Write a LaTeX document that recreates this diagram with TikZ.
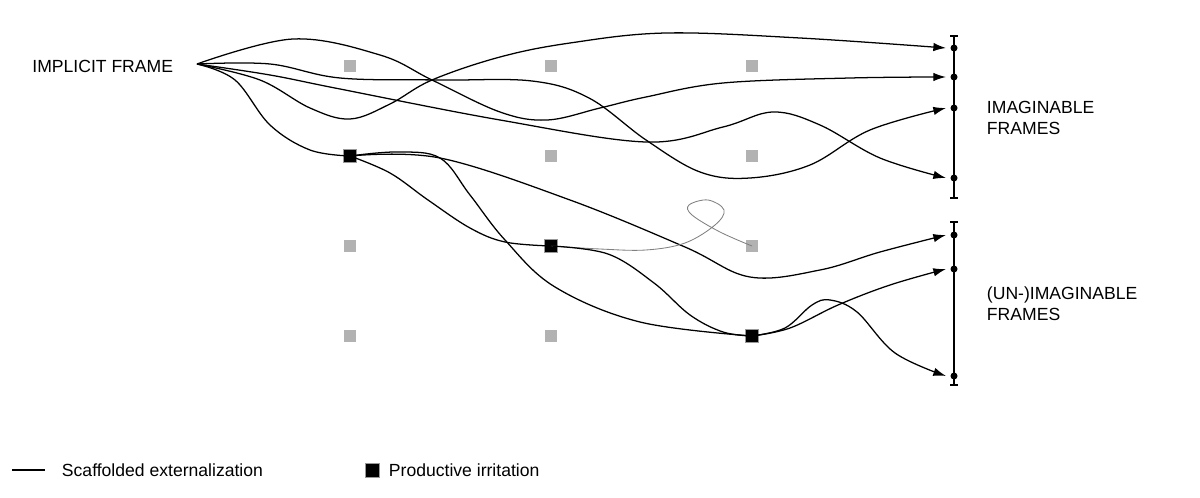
\documentclass[tikz,border=0pt]{standalone}
\usepackage{fontspec}
\setmainfont{Liberation Sans}
\usetikzlibrary{arrows.meta}
\tikzset{
  flow/.style     = {draw, line width=0.9pt, -{Latex[length=9pt,width=6pt]}},
  link/.style     = {draw, line width=0.9pt},
  spot/.style     = {shape=rectangle, minimum size=9pt, inner sep=0pt, fill=black!30},
  irritation/.style = {spot, fill=black, draw=black!40, line width=0.4pt},
  tick/.style     = {circle, fill=black, inner sep=0pt, minimum size=5pt},
  label/.style    = {font=\fontsize{12.5}{15}\selectfont, align=left, anchor=west}
}
\begin{document}
\begin{tikzpicture}[x=0.025cm, y=-0.025cm]
  \useasboundingbox (0,0) rectangle (1200,498);
  % grid of spots
  \foreach \c/\x in {1/350, 2/551, 3/752}
    \foreach \r/\y in {1/66, 2/156, 3/246, 4/336}
      \node [spot] (g\c\r) at (\x,\y) {};
  \node [irritation] (s1) at (350,156) {};
  \node [irritation] (s2) at (551,246) {};
  \node [irritation] (s3) at (752,336) {};
  \coordinate (if) at (197,64);
  \node [label, anchor=east] (implicit) at (178,66) {IMPLICIT FRAME};
  % frame brackets
  \draw [line width=0.9pt] (950,36) -- (958,36) (954,36) -- (954,198) (950,198) -- (958,198);
  \draw [line width=0.9pt] (950,222) -- (958,222) (954,222) -- (954,385) (950,385) -- (958,385);
  \foreach \n/\y in {1/48, 2/77, 3/108, 4/178, 5/235, 6/269, 7/376} {
    \node [tick] (d\n) at (954,\y) {};
    \coordinate (t\n) at (946,\y);
  }
  \node [label] (imag) at (982,118) {IMAGINABLE\\FRAMES};
  \node [label] (unimag) at (982,304) {(UN-)IMAGINABLE\\FRAMES};
  % paths from the implicit frame
  \draw [flow] plot [smooth, tension=0.6] coordinates {(if) (293,39) (380,55) (432,80) (500,112) (547,120) (600,108) (646,97) (723,83) (850,78) (t2)};
  \draw [flow] plot [smooth, tension=0.6] coordinates {(if) (270,64) (340,78) (440,80) (532,81) (589,98) (646,140) (700,172) (750,178) (810,165) (870,130) (t3)};
  \draw [flow] plot [smooth, tension=0.6] coordinates {(if) (270,75) (340,89) (500,120) (646,142) (723,127) (773,112) (820,125) (880,158) (t4)};
  \draw [flow] plot [smooth, tension=0.6] coordinates {(if) (260,80) (310,108) (350,119) (390,104) (432,80) (500,57) (570,43) (666,33) (800,38) (t1)};
  \draw [link] plot [smooth, tension=0.6] coordinates {(if) (235,80) (270,125) (310,150) (s1)};
  % paths from the first irritation
  \draw [link] plot [smooth, tension=0.6] coordinates {(s1) (397,152) (440,158) (470,195) (505,240) (555,287) (640,322) (s3)};
  \draw [link] plot [smooth, tension=0.6] coordinates {(s1) (390,173) (428,200) (470,228) (505,242) (s2)};
  \draw [flow] plot [smooth, tension=0.6] coordinates {(s1) (440,158) (570,200) (685,247) (750,277) (820,270) (880,252) (t5)};
  % paths from the second irritation
  \draw [black!50, line width=0.6pt] plot [smooth, tension=0.6] coordinates {(s2) (600,249) (646,250) (685,243) (715,225) (724,210) (708,200) (689,205) (692,215) (720,232) (g33)};
  \draw [link] plot [smooth, tension=0.6] coordinates {(s2) (608,254) (654,283) (690,315) (723,332) (s3)};
  % paths from the third irritation
  \draw [flow] plot [smooth, tension=0.6] coordinates {(s3) (785,328) (812,305) (830,300) (857,312) (895,353) (t7)};
  \draw [flow] plot [smooth, tension=0.6] coordinates {(s3) (790,328) (838,305) (890,285) (t6)};
  % legend
  \draw [line width=0.9pt] (12,470) coordinate (l1) -- (45,470) coordinate (l2);
  \node [label] (scaffold) at (57,470) {Scaffolded externalization};
  \node [irritation, minimum size=10pt] (key) at (372,470) {};
  \node [label] (productive) at (384,470) {Productive irritation};
\end{tikzpicture}
\end{document}
